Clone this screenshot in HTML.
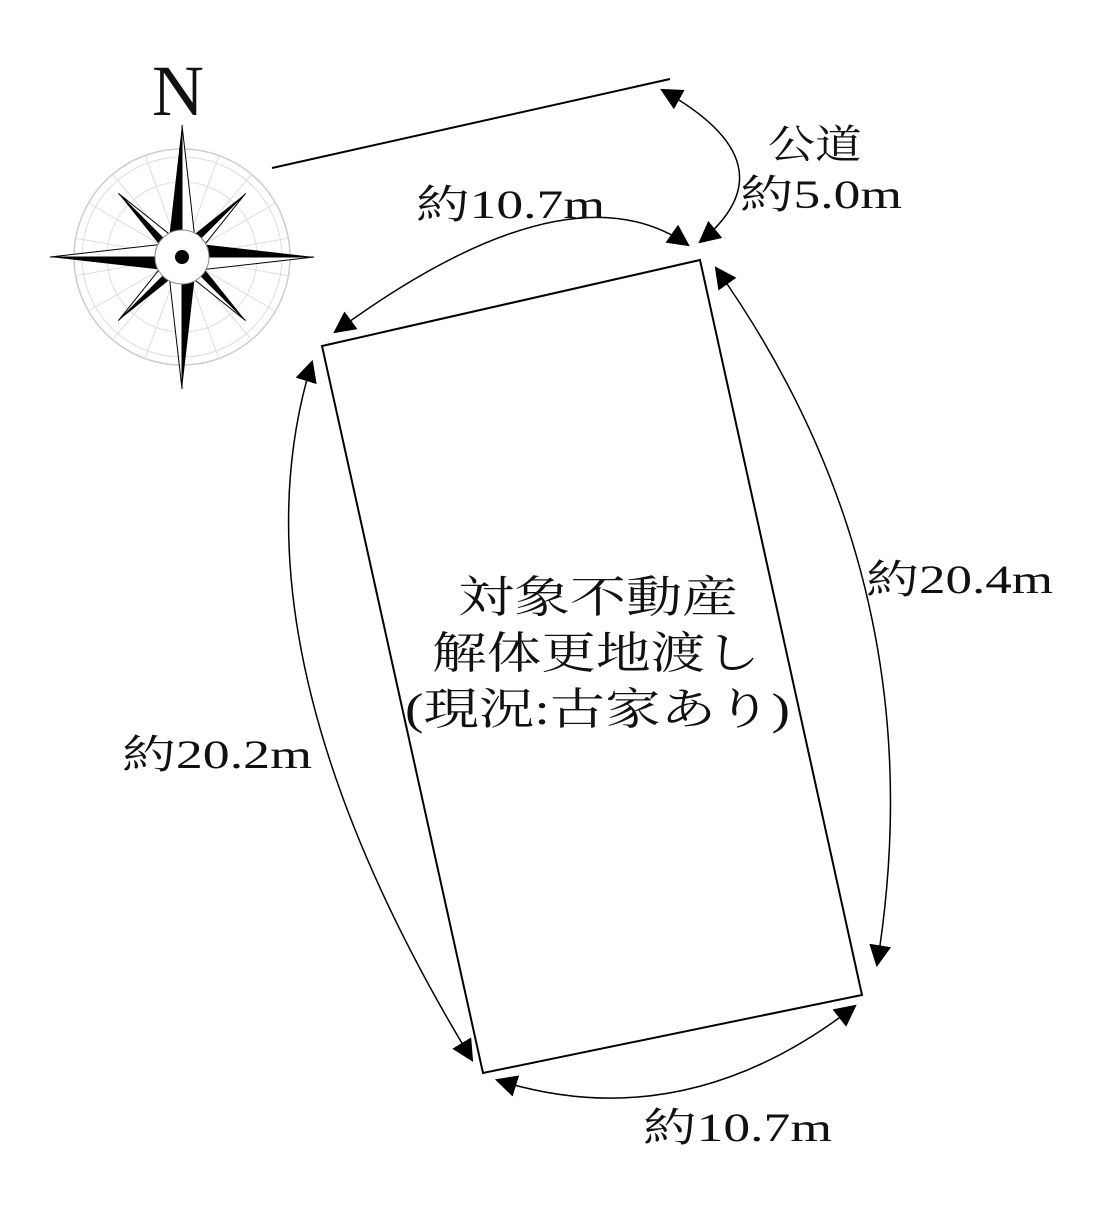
<!DOCTYPE html>
<html><head><meta charset="utf-8"><style>
body{margin:0;background:#fff;width:1105px;height:1200px;overflow:hidden}
svg text{font-family:"Liberation Serif","Noto Serif CJK SC",serif;fill:#111}
</style></head><body>
<svg width="1105" height="1200" viewBox="0 0 1105 1200">
<defs><marker id="a" viewBox="0 0 10 10" refX="9" refY="5" markerWidth="22" markerHeight="22" markerUnits="userSpaceOnUse" orient="auto-start-reverse"><path d="M0,0L10,5L0,10z" fill="#000"/></marker></defs>
<!-- compass -->
<g transform="translate(182,257)">
<circle r="108" fill="none" stroke="#ccc" stroke-width="1.5"/>
<circle r="100" fill="none" stroke="#ddd" stroke-width="1"/>
<circle r="75" fill="none" stroke="#ddd" stroke-width="1"/>
<g stroke="#ddd" stroke-width="1">
<line x1="-108" y1="0" x2="108" y2="0" transform="rotate(10)"/><line x1="-108" y1="0" x2="108" y2="0" transform="rotate(30)"/><line x1="-108" y1="0" x2="108" y2="0" transform="rotate(50)"/><line x1="-108" y1="0" x2="108" y2="0" transform="rotate(70)"/><line x1="-108" y1="0" x2="108" y2="0" transform="rotate(110)"/><line x1="-108" y1="0" x2="108" y2="0" transform="rotate(130)"/><line x1="-108" y1="0" x2="108" y2="0" transform="rotate(150)"/><line x1="-108" y1="0" x2="108" y2="0" transform="rotate(170)"/></g>
<g transform="rotate(45)">
<path d="M0,-90L-10,0L0,0z" fill="#000"/><path d="M0,-90L10,0L0,0z" fill="#fff" stroke="#000"/>
<path d="M0,90L10,0L0,0z" fill="#000"/><path d="M0,90L-10,0L0,0z" fill="#fff" stroke="#000"/>
<path d="M90,0L0,-10L0,0z" fill="#000"/><path d="M90,0L0,10L0,0z" fill="#fff" stroke="#000"/>
<path d="M-90,0L0,10L0,0z" fill="#000"/><path d="M-90,0L0,-10L0,0z" fill="#fff" stroke="#000"/>
</g>
<path d="M0,-132L-15,0L0,0z" fill="#000"/><path d="M0,-132L15,0L0,0z" fill="#fff" stroke="#000"/>
<path d="M0,132L15,0L0,0z" fill="#000"/><path d="M0,132L-15,0L0,0z" fill="#fff" stroke="#000"/>
<path d="M132,0L0,-15L0,0z" fill="#000"/><path d="M132,0L0,15L0,0z" fill="#fff" stroke="#000"/>
<path d="M-132,0L0,15L0,0z" fill="#000"/><path d="M-132,0L0,-15L0,0z" fill="#fff" stroke="#000"/>
<circle r="27" fill="#fff" stroke="#888"/><circle r="7" fill="#000"/>
</g>
<text x="178" y="115" font-size="72" text-anchor="middle">N</text>
<!-- road -->
<line x1="272" y1="168" x2="670" y2="79" stroke="#000" stroke-width="2"/>
<path d="M662,90 Q795,164 700,242" fill="none" stroke="#000" stroke-width="1.5" marker-start="url(#a)" marker-end="url(#a)"/>
<!-- lot -->
<polygon points="322,346 700,260 862,995 483,1073" fill="#fff" stroke="#000" stroke-width="2"/>
<path d="M335,332 Q568,161 688,245" fill="none" stroke="#000" stroke-width="1.5" marker-start="url(#a)" marker-end="url(#a)"/>
<path d="M312,362 Q223,649 472,1060" fill="none" stroke="#000" stroke-width="1.5" marker-start="url(#a)" marker-end="url(#a)"/>
<path d="M716,268 Q939,583 877,965" fill="none" stroke="#000" stroke-width="1.5" marker-start="url(#a)" marker-end="url(#a)"/>
<path d="M497,1080 Q684,1139 855,1006" fill="none" stroke="#000" stroke-width="1.5" marker-start="url(#a)" marker-end="url(#a)"/>
<!-- labels -->
<g font-size="40">
<text x="768" y="158" textLength="94" lengthAdjust="spacingAndGlyphs">公道</text>
<text x="740" y="208" textLength="162" lengthAdjust="spacingAndGlyphs">約5.0m</text>
<text x="416" y="218" textLength="189" lengthAdjust="spacingAndGlyphs">約10.7m</text>
<text x="866" y="593" textLength="187" lengthAdjust="spacingAndGlyphs">約20.4m</text>
<text x="122" y="768" textLength="190" lengthAdjust="spacingAndGlyphs">約20.2m</text>
<text x="643" y="1141" textLength="189" lengthAdjust="spacingAndGlyphs">約10.7m</text>
</g>
<g font-size="44">
<text x="458" y="612" textLength="280" lengthAdjust="spacingAndGlyphs">対象不動産</text>
<text x="432" y="668" textLength="328" lengthAdjust="spacingAndGlyphs">解体更地渡し</text>
<text x="405" y="724" textLength="385" lengthAdjust="spacingAndGlyphs">(現況:古家あり)</text>
</g>
</svg>
</body></html>
